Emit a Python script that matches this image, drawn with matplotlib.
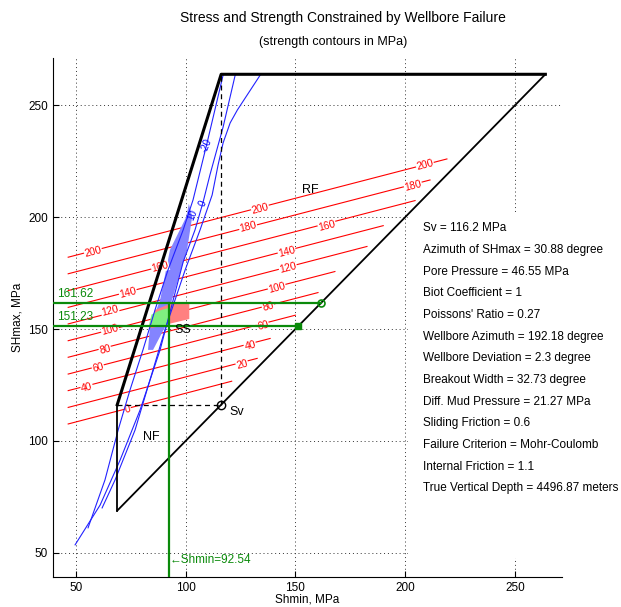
import matplotlib
matplotlib.use("Agg")
import matplotlib.pyplot as plt
from matplotlib.patches import Rectangle

plt.rcParams['font.family'] = ['Liberation Sans', 'DejaVu Sans']

# ---------------- data ----------------
Sv = 116.2
Pp = 46.55
Shmin_nf = 68.88      # lower frictional limit
SHmax_rf = 263.82     # upper frictional limit
Shmin_est = 92.54
SHmax_hi = 161.62
SHmax_lo = 151.23

info_lines = [
    "Sv = 116.2 MPa",
    "Azimuth of SHmax = 30.88 degree",
    "Pore Pressure = 46.55 MPa",
    "Biot Coefficient = 1",
    "Poissons' Ratio = 0.27",
    "Wellbore Azimuth = 192.18 degree",
    "Wellbore Deviation = 2.3 degree",
    "Breakout Width = 32.73 degree",
    "Diff. Mud Pressure = 21.27 MPa",
    "Sliding Friction = 0.6",
    "Failure Criterion = Mohr-Coulomb",
    "Internal Friction = 1.1",
    "True Vertical Depth = 4496.87 meters",
]

# strength contours (red): level, start (Shmin, SHmax), end (Shmin, SHmax)
contour_levels = [0, 20, 40, 60, 80, 100, 120, 140, 160, 180, 200]
contour_x0 = [46.55] * 11
contour_y0 = [107.6, 115.0, 122.5, 129.9, 137.4, 144.8, 152.3, 159.7, 167.2, 174.7, 182.1]
contour_x1 = [121.0, 132.6, 138.5, 150.0, 160.3, 168.0, 182.6, 190.0, 204.5, 211.3, 219.0]
contour_y1 = [126.7, 136.9, 145.8, 156.2, 166.3, 175.7, 186.9, 196.2, 207.4, 216.6, 226.0]

# contour label positions
label_x = [57.9, 88.4, 73.8, 65.6, 65.6, 63.4, 60.2, 55.1, 73.8,
           134.0, 128.5, 164.4, 146.1, 146.6, 141.6, 137.6, 135.3, 129.4, 125.8, 209.0, 203.6]
label_y = [184.5, 177.8, 166.1, 158.1, 149.6, 140.7, 132.6, 123.7, 113.9,
           203.7, 195.5, 196.1, 184.5, 177.4, 168.4, 159.9, 151.4, 142.5, 134.0, 223.3, 214.0]
label_v = [200, 160, 140, 120, 100, 80, 60, 40, 0,
           200, 180, 160, 140, 120, 100, 80, 60, 40, 20, 200, 180]

# blue contours near the strike-slip line
blue1_x = [117.1, 109.8, 103.4, 98.9, 92.0, 86.1, 80.6, 74.7, 69.3, 63.3, 55.6]
blue1_y = [263.5, 233.2, 207.7, 194.3, 176.4, 158.6, 140.7, 122.8, 104.9, 82.6, 61.2]
blue2_x = [122.6, 117.1, 111.1, 108.0, 104.3, 98.9, 88.4, 79.3, 70.2, 61.1, 49.7]
blue2_y = [263.5, 240.3, 218.9, 206.8, 194.3, 180.0, 140.7, 113.9, 91.5, 71.4, 53.6]
blue3_x = [134.0, 123.6, 120.3, 117.1, 114.8, 112.1, 106.6, 99.8, 90.6, 83.8, 77.0, 67.9, 62.0]
blue3_y = [263.5, 247.9, 242.1, 233.2, 223.3, 209.9, 194.3, 176.4, 149.6, 127.3, 104.9, 82.6, 70.1]
blue_lab_x = [109.5, 108.0, 103.0]
blue_lab_y = [232.0, 206.0, 201.0]
blue_lab_t = ["-20", "0", "10"]

# shaded regions
band_x = [101.5, 100.3, 92.9, 88.4, 83.8, 82.9, 85.2, 90.7, 93.8, 100.7, 103.0]
band_y = [206.0, 200.1, 185.4, 163.0, 151.0, 140.7, 140.7, 151.0, 163.0, 185.4, 200.1]
pink_x = [84.0, 101.7, 101.7, 92.54, 86.0]
pink_y = [150.3, 154.5, 161.62, 161.1, 158.5]
green_x = [83.2, 92.54, 92.54, 88.0, 84.5]
green_y = [151.23, 151.23, 159.5, 158.2, 156.5]

# ---------------- figure ----------------
W, H = 621, 607
fig = plt.figure(figsize=(W / 100, H / 100), dpi=100)
ax = fig.add_axes([52.7 / W, 1 - 577.3 / H, (562 - 52.7) / W, (577.3 - 58) / H])
ax.set_xlim(39.5, 271.4)
ax.set_ylim(39.1, 271.1)
ax.set_xticks([50, 100, 150, 200, 250])
ax.set_yticks([50, 100, 150, 200, 250])
ax.grid(True, linestyle=(0, (1, 3)), color='#333333', linewidth=0.7)
ax.set_axisbelow(True)
for s in ['top', 'right']:
    ax.spines[s].set_visible(False)
ax.tick_params(direction='in', length=4, labelsize=8.5, width=0.8)

# white background of the parameter box (hides grid)
ax.add_patch(Rectangle((201.3, 47.8), 80, 154.5, facecolor='white', edgecolor='none',
                       zorder=1.5, clip_on=True))

# red strength contours
for lev, x0, y0, x1, y1 in zip(contour_levels, contour_x0, contour_y0, contour_x1, contour_y1):
    ax.plot([x0, x1], [y0, y1], color='red', lw=0.8, zorder=2)
for x, y, v in zip(label_x, label_y, label_v):
    ax.text(x, y, str(v), color='red', fontsize=7.5, rotation=14.5, ha='center', va='center',
            rotation_mode='anchor', zorder=3,
            bbox=dict(facecolor='white', edgecolor='none', pad=0.3))

# blue band and patches
ax.fill(band_x, band_y, color='#8484ff', lw=0, zorder=2.5)
ax.fill(pink_x, pink_y, color='#ff8080', lw=0, zorder=2.6)
ax.fill(green_x, green_y, color='#80f080', lw=0, zorder=2.7)

# blue contours
for bx, by in [(blue1_x, blue1_y), (blue2_x, blue2_y), (blue3_x, blue3_y)]:
    ax.plot(bx, by, color='#2222ff', lw=0.8, zorder=3)
for x, y, t in zip(blue_lab_x, blue_lab_y, blue_lab_t):
    ax.text(x, y, t, color='blue', fontsize=7, rotation=68, ha='center', va='center', zorder=3.5)

# stress polygon
ax.plot([Shmin_nf, Shmin_nf], [Shmin_nf, Sv], color='k', lw=1.3, zorder=4)
ax.plot([Shmin_nf, Sv, SHmax_rf], [Sv, SHmax_rf, SHmax_rf], color='k', lw=2.2, zorder=4)
ax.plot([Shmin_nf, SHmax_rf], [Shmin_nf, SHmax_rf], color='k', lw=1.3, zorder=4)
ax.plot([Shmin_nf, Sv], [Sv, Sv], color='k', lw=0.9, ls=(0, (4, 3)), zorder=4)
ax.plot([Sv, Sv], [Sv, SHmax_rf], color='k', lw=0.9, ls=(0, (4, 3)), zorder=4)
ax.plot([Sv], [Sv], marker='o', ms=6, mfc='none', mec='k', mew=1.0, zorder=5)

ax.text(157.0, 212.2, "RF", fontsize=9, ha='center', va='center', zorder=6)
ax.text(98.9, 149.6, "SS", fontsize=9, ha='center', va='center', zorder=6)
ax.text(84.3, 101.9, "NF", fontsize=9, ha='center', va='center', zorder=6)
ax.text(123.5, 113.0, "Sv", fontsize=9, ha='center', va='center', zorder=6)

# green estimate lines
g = '#0a8a0a'
xl = ax.get_xlim()
ax.plot([xl[0], SHmax_hi], [SHmax_hi, SHmax_hi], color=g, lw=1.6, zorder=5)
ax.plot([xl[0], SHmax_lo], [SHmax_lo, SHmax_lo], color=g, lw=1.6, zorder=5)
ax.plot([Shmin_est, Shmin_est], [ax.get_ylim()[0], SHmax_hi], color=g, lw=1.6, zorder=5)
ax.plot([SHmax_hi], [SHmax_hi], marker='o', ms=5, mfc='none', mec=g, mew=1.2, zorder=6)
ax.plot([SHmax_lo], [SHmax_lo], marker='s', ms=4, mfc=g, mec=g, zorder=6)
ax.text(41.5, SHmax_hi + 1.5, f"{SHmax_hi:.2f}", color=g, fontsize=8.5, ha='left', va='bottom', zorder=6)
ax.text(41.5, SHmax_lo + 1.5, f"{SHmax_lo:.2f}", color=g, fontsize=8.5, ha='left', va='bottom', zorder=6)
ax.text(Shmin_est, 46.9, f"\u2190Shmin={Shmin_est:.2f}", color=g, fontsize=8.5, ha='left', va='center', zorder=6)

# info text
for i, t in enumerate(info_lines):
    ax.text(208.3, 195.05 - i * 9.68, t, fontsize=8.5, ha='left', va='center', zorder=6)

fig.text(307 / W, 1 - 600 / H, "Shmin, MPa", fontsize=8.5, ha='center', va='center')
ax.set_ylabel("SHmax, MPa", fontsize=8.5, labelpad=3)
fig.text(343 / W, 1 - 18 / H, "Stress and Strength Constrained by Wellbore Failure",
         fontsize=10, ha='center', va='center')
fig.text(333 / W, 1 - 42 / H, "(strength contours in MPa)", fontsize=9, ha='center', va='center')

fig.savefig("out.png", dpi=100)
